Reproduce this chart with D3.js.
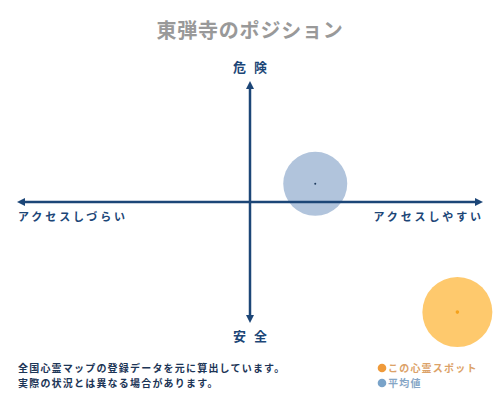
<!DOCTYPE html>
<html><head><meta charset="utf-8">
<script src="https://cdn.jsdelivr.net/npm/d3@7/dist/d3.min.js"></script>
<style>
html,body{margin:0;padding:0;background:#fff;}
svg{display:block;font-family:"Noto Sans CJK JP","Noto Sans",sans-serif;}
</style></head>
<body>
<svg id="c" width="500" height="400"></svg>
<script>
const title = "東弾寺のポジション";
const axisLabels = {top:"危険", bottom:"安全", left:"アクセスしづらい", right:"アクセスしやすい"};
const seriesNames = ["この心霊スポット","平均値"];
const xValues = [8.9, 2.8];
const yValues = [-9.1, 1.5];
const radii = [35, 32];
const notes = ["全国心霊マップの登録データを元に算出しています。","実際の状況とは異なる場合があります。"];

const svg = d3.select("#c");
const x = d3.scaleLinear().domain([-10,10]).range([17,483]);
const y = d3.scaleLinear().domain([-10,10]).range([323,81]);
const navy = "#1c4677";

svg.append("text").attr("x",250).attr("y",38).attr("text-anchor","middle")
  .attr("font-size",20).attr("font-weight","bold").attr("fill","#999").attr("letter-spacing",0.8).text(title);

// bubbles (drawn under the axes)
const pts = xValues.map((v,i)=>({x:v,y:yValues[i],r:radii[i],i}));
const fills = ["#fec96d","#b1c4dc"];
const dots = ["#f5a21c","#1c3a5c"];
svg.selectAll("circle.b").data(pts).join("circle").attr("class","b")
  .attr("cx",d=>x(d.x)).attr("cy",d=>y(d.y)).attr("r",d=>d.r).attr("fill",d=>fills[d.i]);
svg.selectAll("circle.d").data(pts).join("circle").attr("class","d")
  .attr("cx",d=>x(d.x)).attr("cy",d=>y(d.y)).attr("r",d=>d.i===0?1.8:1).attr("fill",d=>dots[d.i]);

// axes
const g = svg.append("g");
g.append("line").attr("x1",x(-10)+5).attr("x2",x(10)-5).attr("y1",y(0)).attr("y2",y(0)).attr("stroke",navy).attr("stroke-width",2.5);
g.append("line").attr("x1",x(0)).attr("x2",x(0)).attr("y1",y(10)+5).attr("y2",y(-10)-5).attr("stroke",navy).attr("stroke-width",2.5);
const a = 4, L = 8;
const arrows = [
  [[x(-10),y(0)],[x(-10)+L,y(0)-a],[x(-10)+L,y(0)+a]],
  [[x(10),y(0)],[x(10)-L,y(0)-a],[x(10)-L,y(0)+a]],
  [[x(0),y(10)],[x(0)-a,y(10)+L],[x(0)+a,y(10)+L]],
  [[x(0),y(-10)],[x(0)-a,y(-10)-L],[x(0)+a,y(-10)-L]]
];
g.selectAll("path.arr").data(arrows).join("path").attr("class","arr")
  .attr("d",d=>"M"+d.map(p=>p.join(",")).join("L")+"Z").attr("fill",navy);

const lab = svg.append("g").attr("fill",navy).attr("font-weight","bold");
lab.append("text").attr("x",x(0)+4).attr("y",72).attr("text-anchor","middle").attr("font-size",13).attr("letter-spacing",8).text(axisLabels.top);
lab.append("text").attr("x",x(0)+4).attr("y",341).attr("text-anchor","middle").attr("font-size",13).attr("letter-spacing",8).text(axisLabels.bottom);
lab.append("text").attr("x",18).attr("y",221).attr("font-size",11).attr("letter-spacing",2.9).text(axisLabels.left);
lab.append("text").attr("x",484).attr("y",221).attr("text-anchor","end").attr("font-size",11).attr("letter-spacing",2.9).text(axisLabels.right);

// notes
svg.selectAll("text.n").data(notes).join("text").attr("class","n")
  .attr("x",18).attr("y",(d,i)=>372+i*15).attr("font-size",10).attr("font-weight","bold")
  .attr("letter-spacing",1.2).attr("fill","#1c3556").text(d=>d);

// legend
const legDot = ["#ef9a3a","#79a3c9"];
const legText = ["#dca268","#86a6c6"];
const lg = svg.selectAll("g.lg").data(seriesNames).join("g").attr("class","lg")
  .attr("transform",(d,i)=>`translate(382,${368+i*15})`);
lg.append("circle").attr("r",4.3).attr("fill",(d,i)=>legDot[i]);
lg.append("text").attr("x",6).attr("y",4).attr("font-size",10).attr("font-weight","bold")
  .attr("letter-spacing",1.2).attr("fill",(d,i)=>legText[i]).text(d=>d);
</script>
</body></html>
